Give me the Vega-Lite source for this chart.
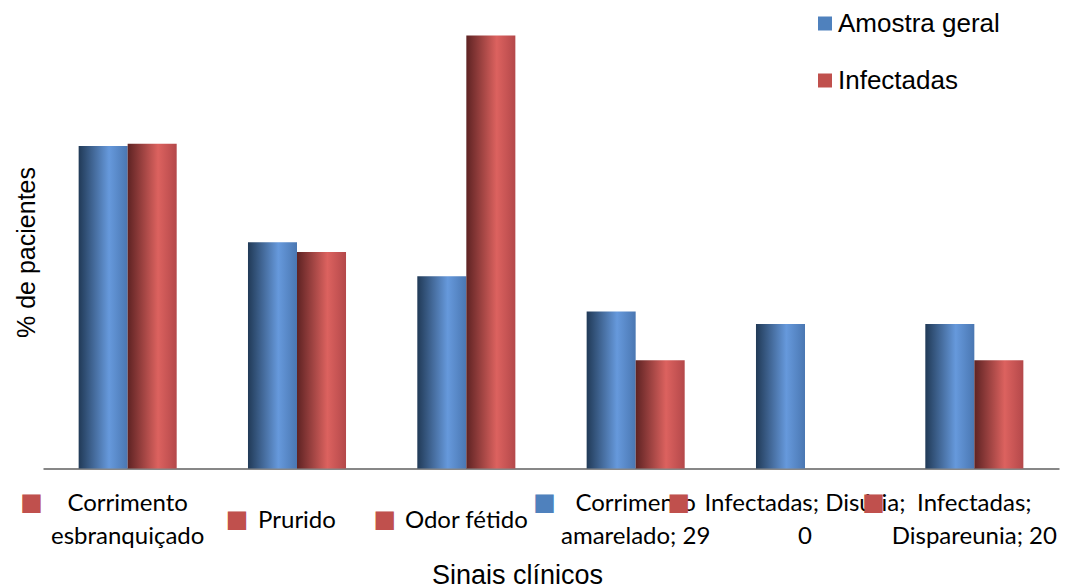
{
  "$schema": "https://vega.github.io/schema/vega-lite/v6.json",
  "width": 1016,
  "height": 433,
  "autosize": "none",
  "padding": {"left": 43, "top": 35.5, "right": 21, "bottom": 118.5},
  "background": "white",
  "config": {"view": {"stroke": null}, "font": "Liberation Sans"},
  "datasets": {
    "bars": [
      {"category": "Corrimento esbranquiçado", "series": "Amostra geral", "value": 59.6},
      {"category": "Corrimento esbranquiçado", "series": "Infectadas", "value": 60.0},
      {"category": "Prurido", "series": "Amostra geral", "value": 41.8},
      {"category": "Prurido", "series": "Infectadas", "value": 40.0},
      {"category": "Odor fétido", "series": "Amostra geral", "value": 35.5},
      {"category": "Odor fétido", "series": "Infectadas", "value": 80.0},
      {"category": "Corrimento amarelado", "series": "Amostra geral", "value": 29},
      {"category": "Corrimento amarelado", "series": "Infectadas", "value": 20},
      {"category": "Disúria", "series": "Amostra geral", "value": 26.7},
      {"category": "Disúria", "series": "Infectadas", "value": 0},
      {"category": "Dispareunia", "series": "Amostra geral", "value": 26.7},
      {"category": "Dispareunia", "series": "Infectadas", "value": 20}
    ],
    "labels": [
      {"category": "Corrimento esbranquiçado", "series": "Infectadas", "label": "Corrimento\nesbranquiçado"},
      {"category": "Prurido", "series": "Infectadas", "label": "Prurido"},
      {"category": "Odor fétido", "series": "Infectadas", "label": "Odor fétido"},
      {"category": "Corrimento amarelado", "series": "Amostra geral", "label": "Corrimento\namarelado; 29"},
      {"category": "Disúria", "series": "Infectadas", "label": "Infectadas; Disúria;\n0"},
      {"category": "Dispareunia", "series": "Infectadas", "label": "Infectadas;\nDispareunia; 20"}
    ]
  },
  "encoding": {
    "x": {
      "field": "category",
      "type": "nominal",
      "sort": ["Corrimento esbranquiçado", "Prurido", "Odor fétido", "Corrimento amarelado", "Disúria", "Dispareunia"],
      "scale": {
        "domain": ["Corrimento esbranquiçado", "Prurido", "Odor fétido", "Corrimento amarelado", "Disúria", "Dispareunia"],
        "paddingInner": 0.421,
        "paddingOuter": 0.2105
      },
      "axis": {
        "title": "Sinais clínicos",
        "labels": false,
        "ticks": false,
        "grid": false,
        "domainColor": "#878787",
        "domainWidth": 2,
        "titleFont": "Liberation Sans",
        "titleFontSize": 27,
        "titleFontWeight": "normal",
        "titleColor": "black",
        "titlePadding": 94,
        "titleX": 474
      }
    }
  },
  "layer": [
    {
      "data": {"name": "bars"},
      "transform": [{"filter": "datum.series === 'Amostra geral'"}],
      "mark": {
        "type": "bar",
        "color": {
          "gradient": "linear", "x1": 0, "y1": 0, "x2": 1, "y2": 0,
          "stops": [
            {"offset": 0, "color": "#213a57"},
            {"offset": 0.62, "color": "#6699dc"},
            {"offset": 1, "color": "#4a77b2"}
          ]
        }
      },
      "encoding": {
        "xOffset": {"field": "series", "type": "nominal", "scale": {"domain": ["Amostra geral", "Infectadas"], "paddingInner": 0, "paddingOuter": 0}},
        "y": {
          "field": "value",
          "type": "quantitative",
          "scale": {"domain": [0, 80], "nice": false},
          "axis": {
            "title": "% de pacientes",
            "domain": false,
            "ticks": false,
            "labels": false,
            "grid": false,
            "titleFont": "Liberation Sans",
            "titleFontSize": 25,
            "titleFontWeight": "normal",
            "titleColor": "black",
            "titlePadding": 4
          }
        }
      }
    },
    {
      "data": {"name": "bars"},
      "transform": [{"filter": "datum.series === 'Infectadas'"}],
      "mark": {
        "type": "bar",
        "color": {
          "gradient": "linear", "x1": 0, "y1": 0, "x2": 1, "y2": 0,
          "stops": [
            {"offset": 0, "color": "#5e2323"},
            {"offset": 0.62, "color": "#dc625f"},
            {"offset": 1, "color": "#b4484a"}
          ]
        }
      },
      "encoding": {
        "xOffset": {"field": "series", "type": "nominal", "scale": {"domain": ["Amostra geral", "Infectadas"], "paddingInner": 0, "paddingOuter": 0}},
        "y": {"field": "value", "type": "quantitative"}
      }
    },
    {
      "data": {"name": "labels"},
      "mark": {
        "type": "text",
        "font": "Lato",
        "fontSize": 24,
        "lineBreak": "\n",
        "lineHeight": 33,
        "baseline": "middle",
        "align": "center",
        "dy": {"expr": "52 - (length(split(datum.label, '\\n')) - 1) * 16.5"},
        "color": "black"
      },
      "encoding": {
        "text": {"field": "label", "type": "nominal"},
        "y": {"datum": 0, "type": "quantitative"}
      }
    },
    {
      "data": {"name": "labels"},
      "mark": {
        "type": "text",
        "text": "■",
        "font": "DejaVu Sans",
        "fontSize": 24,
        "baseline": "middle",
        "align": "center",
        "dx": {"expr": "-max(length(split(datum.label, '\\n')[0]) - 0.4 * (length(split(datum.label, '\\n')[0]) - length(replace(split(datum.label, '\\n')[0], regexp('[ ;:ilIíj,.]', 'g'), ''))), length(split(datum.label, '\\n')[1] || '') - 0.4 * (length(split(datum.label, '\\n')[1] || '') - length(replace(split(datum.label, '\\n')[1] || '', regexp('[ ;:ilIíj,.]', 'g'), '')))) * 6.03 - 20"},
        "dy": {"expr": "51 - (length(split(datum.label, '\\n')) - 1) * 16.5"}
      },
      "encoding": {
        "y": {"datum": 0, "type": "quantitative"},
        "color": {
          "field": "series",
          "type": "nominal",
          "scale": {"domain": ["Amostra geral", "Infectadas"], "range": ["#4F81BD", "#C0504D"]},
          "legend": {
            "orient": "none",
            "legendX": 769,
            "legendY": -25,
            "title": null,
            "symbolType": "square",
            "symbolSize": 196,
            "symbolStrokeWidth": 0,
            "symbolOpacity": 1,
            "labelFont": "Liberation Sans",
            "labelFontSize": 26,
            "labelColor": "black",
            "labelOffset": 0,
            "labelLimit": 400,
            "rowPadding": 31
          }
        }
      }
    }
  ]
}
